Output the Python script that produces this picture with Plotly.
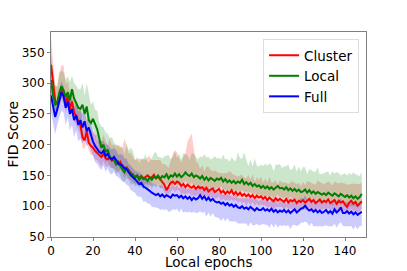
import plotly.graph_objects as go

epochs = list(range(149))

cluster_mean = [
    330, 300, 272, 265, 282, 290, 283, 268, 279, 258,
    270, 252, 247, 238, 232, 212, 207, 222, 203, 198,
    195, 190, 186, 183, 180, 185, 178, 176, 180, 174,
    176, 170, 168, 172, 165, 160, 163, 158, 155, 150,
    148, 150, 146, 149, 145, 148, 150, 146, 147, 151,
    145, 148, 143, 140, 135, 126, 132, 138, 140, 136,
    140, 138, 133, 136, 131, 135, 132, 130, 133, 128,
    132, 129, 131, 126, 130, 124, 127, 129, 123, 126,
    128, 122, 125, 120, 124, 121, 126, 119, 123, 118,
    122, 117, 120, 116, 119, 115, 118, 113, 117, 114,
    116, 112, 115, 110, 114, 111, 108, 113, 109, 112,
    110, 107, 112, 106, 110, 108, 111, 105, 109, 107,
    110, 106, 109, 112, 107, 110, 105, 108, 111, 106,
    109, 107, 111, 105, 108, 110, 104, 109, 106, 108,
    103, 99, 106, 109, 104, 107, 101, 105, 108]
cluster_up = [
    45, 30, 25, 28, 35, 40, 45, 30, 25, 28,
    22, 25, 20, 24, 28, 30, 25, 22, 26, 24,
    28, 25, 30, 22, 26, 32, 28, 24, 30, 26,
    24, 28, 32, 26, 30, 50, 35, 28, 32, 30,
    26, 30, 24, 28, 32, 27, 30, 35, 28, 24,
    30, 26, 32, 28, 34, 40, 30, 36, 45, 55,
    48, 40, 38, 44, 55, 70, 80, 88, 60, 45,
    38, 32, 36, 30, 34, 40, 32, 28, 35, 30,
    26, 32, 28, 34, 30, 36, 28, 32, 27, 30,
    28, 34, 26, 30, 32, 28, 34, 26, 30, 28,
    32, 26, 30, 28, 34, 27, 31, 29, 25, 30,
    28, 32, 26, 30, 28, 33, 27, 31, 29, 26,
    30, 28, 32, 27, 31, 26, 30, 34, 28, 32,
    27, 31, 29, 33, 26, 30, 35, 28, 32, 30,
    34, 36, 30, 28, 33, 29, 35, 31, 30]
cluster_lo = [
    20, 18, 15, 16, 18, 14, 16, 15, 17, 14,
    15, 14, 16, 13, 15, 17, 14, 16, 13, 15,
    12, 14, 11, 13, 15, 12, 14, 11, 13, 12,
    14, 12, 15, 11, 13, 14, 12, 15, 13, 12,
    11, 14, 12, 13, 15, 12, 14, 11, 13, 15,
    12, 14, 13, 11, 12, 10, 13, 14, 12, 13,
    14, 12, 13, 15, 12, 14, 11, 13, 15, 12,
    13, 11, 14, 12, 13, 15, 12, 14, 11, 13,
    12, 14, 13, 11, 14, 12, 15, 11, 13, 12,
    14, 12, 13, 15, 12, 14, 11, 13, 12, 14,
    13, 11, 14, 12, 15, 12, 13, 14, 11, 13,
    12, 14, 13, 11, 14, 12, 15, 11, 13, 12,
    14, 12, 13, 15, 12, 14, 11, 13, 15, 12,
    13, 11, 14, 12, 13, 15, 12, 14, 11, 13,
    12, 10, 14, 13, 12, 14, 11, 13, 12]

local_mean = [
    305, 280, 265, 268, 285, 295, 288, 278, 285, 272,
    290, 275, 268, 260, 258, 265, 250, 262, 240, 235,
    242, 232, 225, 210, 195, 200, 188, 192, 180, 178,
    175, 168, 172, 165, 160, 155, 162, 158, 150, 152,
    146, 150, 143, 148, 144, 145, 141, 147, 143, 148,
    146, 150, 144, 149, 147, 152, 145, 150, 148, 153,
    148, 152, 147, 150, 155, 151, 149, 153, 147, 150,
    148, 145, 149, 143, 147, 142, 146, 144, 141, 145,
    143, 146, 140, 144, 139, 142, 138, 141, 137, 140,
    138, 143, 136, 139, 135, 138, 133, 136, 132, 134,
    130, 133, 129, 132, 128, 131, 127, 130, 133, 129,
    130, 127, 131, 126, 129, 125, 128, 124, 127, 123,
    124, 127, 122, 126, 121, 124, 120, 123, 121, 119,
    121, 118, 122, 120, 117, 121, 119, 116, 120, 118,
    115, 118, 114, 117, 113, 116, 112, 115, 120]
local_up = [
    40, 35, 30, 28, 32, 25, 30, 28, 26, 30,
    22, 25, 28, 30, 32, 35, 30, 38, 42, 30,
    28, 25, 30, 26, 35, 28, 32, 26, 30, 35,
    28, 32, 26, 30, 35, 28, 40, 32, 45, 38,
    30, 26, 35, 28, 32, 40, 30, 26, 34, 38,
    42, 30, 36, 28, 34, 30, 38, 26, 32, 36,
    30, 34, 28, 36, 30, 32, 26, 34, 38, 30,
    28, 36, 30, 42, 32, 38, 30, 34, 40, 32,
    36, 30, 44, 32, 38, 30, 42, 34, 36, 48,
    40, 34, 52, 36, 30, 38, 32, 42, 34, 30,
    38, 32, 40, 34, 42, 36, 30, 38, 34, 40,
    32, 38, 34, 42, 30, 36, 40, 32, 38, 34,
    40, 36, 30, 34, 38, 32, 36, 40, 30, 34,
    32, 38, 34, 30, 40, 32, 36, 38, 30, 34,
    38, 32, 40, 34, 42, 36, 38, 34, 36]
local_lo = [
    25, 22, 20, 18, 22, 20, 18, 20, 22, 19,
    18, 20, 17, 19, 21, 18, 20, 17, 19, 18,
    16, 18, 15, 17, 19, 16, 18, 15, 17, 16,
    15, 17, 14, 16, 18, 15, 17, 14, 16, 15,
    14, 16, 13, 15, 17, 14, 16, 13, 15, 14,
    16, 14, 15, 17, 13, 16, 14, 15, 17, 14,
    15, 17, 14, 16, 13, 15, 17, 14, 16, 15,
    14, 16, 13, 15, 17, 14, 16, 13, 15, 14,
    16, 14, 15, 17, 13, 16, 14, 15, 17, 14,
    15, 17, 14, 16, 13, 15, 17, 14, 16, 15,
    14, 16, 13, 15, 17, 14, 16, 13, 15, 14,
    16, 14, 15, 17, 13, 16, 14, 15, 17, 14,
    15, 17, 14, 16, 13, 15, 17, 14, 16, 15,
    14, 16, 13, 15, 17, 14, 16, 13, 15, 14,
    16, 14, 15, 17, 13, 16, 14, 15, 17]

full_mean = [
    280, 262, 245, 258, 270, 285, 278, 260, 270, 250,
    258, 240, 248, 232, 240, 228, 238, 222, 228, 215,
    205, 198, 192, 188, 186, 190, 182, 185, 178, 176,
    180, 174, 170, 168, 166, 162, 160, 155, 150, 147,
    144, 140, 136, 138, 132, 130, 128, 125, 122, 120,
    118, 120, 116, 119, 115, 118, 116, 114, 119, 117,
    118, 114, 117, 113, 116, 112, 115, 110, 114, 111,
    113, 118, 112, 116, 110, 114, 109, 112, 108, 106,
    107, 104, 106, 102, 105, 101, 103, 99, 102, 98,
    97, 100, 96, 98, 95, 99, 96, 93, 97, 94,
    94, 97, 93, 95, 92, 96, 91, 94, 90, 93,
    91, 94, 90, 93, 89, 92, 95, 90, 93, 96,
    97, 101, 96, 93, 95, 91, 94, 90, 93, 89,
    91, 94, 89, 92, 88, 95, 90, 93, 98, 89,
    89, 92, 88, 91, 87, 90, 86, 89, 91]
full_up = [
    22, 18, 20, 16, 20, 18, 16, 20, 18, 22,
    16, 20, 18, 22, 16, 20, 18, 16, 20, 18,
    16, 18, 15, 17, 19, 16, 18, 15, 17, 16,
    15, 17, 14, 16, 18, 15, 17, 14, 16, 15,
    14, 16, 18, 15, 17, 14, 16, 18, 15, 17,
    16, 14, 17, 15, 18, 14, 16, 17, 15, 14,
    17, 15, 16, 18, 14, 16, 15, 17, 14, 16,
    15, 17, 14, 16, 18, 15, 17, 14, 16, 18,
    15, 17, 14, 16, 15, 18, 14, 16, 17, 15,
    16, 14, 17, 15, 18, 14, 16, 17, 15, 14,
    17, 15, 16, 18, 14, 16, 15, 17, 14, 16,
    15, 17, 14, 16, 18, 15, 17, 14, 16, 18,
    15, 17, 14, 16, 15, 18, 14, 16, 17, 15,
    16, 14, 17, 15, 18, 14, 16, 17, 15, 14,
    17, 15, 16, 18, 14, 16, 15, 17, 16]
full_lo = [
    28, 26, 28, 25, 27, 30, 26, 28, 25, 27,
    26, 28, 25, 27, 30, 26, 28, 25, 27, 26,
    24, 26, 23, 25, 27, 24, 26, 23, 25, 24,
    23, 25, 22, 24, 26, 23, 25, 22, 24, 23,
    22, 24, 21, 23, 25, 22, 24, 21, 23, 22,
    21, 23, 22, 24, 21, 23, 25, 22, 24, 23,
    22, 24, 21, 23, 25, 22, 24, 21, 23, 22,
    24, 26, 23, 25, 27, 24, 26, 23, 25, 24,
    26, 28, 25, 27, 24, 26, 28, 25, 27, 26,
    25, 27, 24, 26, 28, 25, 27, 24, 26, 25,
    24, 26, 23, 25, 27, 24, 26, 23, 25, 24,
    23, 25, 22, 24, 26, 23, 25, 22, 24, 23,
    24, 26, 23, 25, 22, 24, 26, 23, 25, 22,
    23, 25, 22, 24, 21, 23, 25, 22, 24, 21,
    22, 24, 21, 23, 25, 22, 24, 21, 23]

x_title = "Local epochs"
y_title = "FID Score"

series = [
    ("Cluster", cluster_mean, cluster_up, cluster_lo, "#ff0000", "rgba(255,0,0,0.2)"),
    ("Local", local_mean, local_up, local_lo, "#008000", "rgba(0,128,0,0.2)"),
    ("Full", full_mean, full_up, full_lo, "#0000ff", "rgba(0,0,255,0.2)"),
]

fig = go.Figure()
for name, m, up, lo, col, fcol in series:
    n = min(len(m), len(up), len(lo), len(epochs))
    x = epochs[:n]
    lower = [m[i] - lo[i] for i in range(n)]
    upper = [m[i] + up[i] for i in range(n)]
    fig.add_trace(go.Scatter(x=x, y=lower, mode="lines", line=dict(width=0, color=fcol),
                             showlegend=False, hoverinfo="skip"))
    fig.add_trace(go.Scatter(x=x, y=upper, mode="lines", line=dict(width=0, color=fcol),
                             fill="tonexty", fillcolor=fcol, showlegend=False, hoverinfo="skip"))
for name, m, up, lo, col, fcol in series:
    n = min(len(m), len(epochs))
    fig.add_trace(go.Scatter(x=epochs[:n], y=m[:n], mode="lines", name=name,
                             line=dict(color=col, width=2)))

axis_common = dict(showline=True, linecolor="#808080", linewidth=1, mirror=True,
                   showgrid=False, zeroline=False, ticks="outside", ticklen=3,
                   tickcolor="#808080", tickfont=dict(size=12, color="black"),
                   automargin=False)

fig.update_layout(
    width=407, height=271,
    margin=dict(l=51, r=41, t=32, b=34),
    plot_bgcolor="white", paper_bgcolor="white",
    font=dict(family="DejaVu Sans", color="black"),
    xaxis=dict(range=[0, 150], tickvals=[0, 20, 40, 60, 80, 100, 120, 140], **axis_common),
    yaxis=dict(range=[50, 383], tickvals=[50, 100, 150, 200, 250, 300, 350], **axis_common),
    legend=dict(x=0.978, y=0.966, xanchor="right", yanchor="top", traceorder="normal",
                bgcolor="rgba(255,255,255,0.85)", bordercolor="#dddddd", borderwidth=1,
                font=dict(size=13.5), tracegroupgap=0),
    showlegend=True,
    annotations=[
        dict(text=x_title, xref="paper", yref="paper", x=0.5, y=0, xanchor="center",
             yanchor="bottom", yshift=-34, borderpad=0, showarrow=False, font=dict(size=13.5)),
        dict(text=y_title, xref="paper", yref="paper", x=0, y=0.5, xanchor="center",
             yanchor="middle", xshift=-39, textangle=-90, showarrow=False, font=dict(size=14)),
    ],
)

fig.write_html("out.html", config={"displayModeBar": False},
               post_script="document.body.style.margin='0px';document.body.style.padding='0px';")
